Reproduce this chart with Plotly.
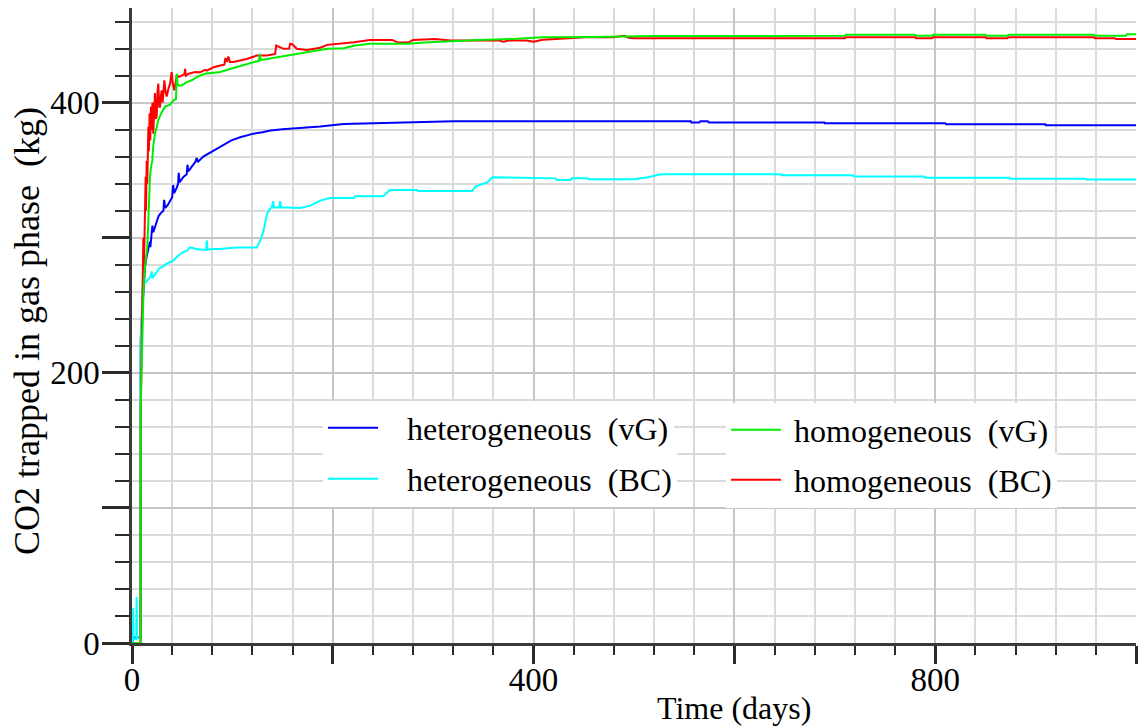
import plotly.graph_objects as go

# CO2 mass trapped in the gas phase over time, four model variants
blue_t = [
    0, 1.0, 1.5, 8.5, 8.7, 9.6, 10.6, 11.7, 12.9, 14.6,
    16.3, 17.8, 18.3, 19.6, 20.3, 21.2, 22.9, 24.6, 26.5, 28.5,
    31.3, 32.0, 33.0, 35.5, 37.9, 40.0, 41.0, 42.0, 44.6, 46.0,
    46.5, 47.5, 51.2, 54.5, 55.3, 56.0, 59.0, 63.0, 64.5, 65.5,
    71.0, 77.8, 84.0, 91.1, 99.0, 107.7, 115.0, 121.0, 130.0, 137.7,
    150.0, 160.9, 167.6, 187.5, 210.8, 237.0, 264.0, 290.0, 320.5, 556.6,
    557.0, 565.0, 566.0, 573.5, 574.5, 689.6, 690.0, 810.0, 811.0, 909.7,
    910.0, 1000.0,
]
blue_v = [
    0, 3, 4, 4, 224, 238, 251, 265, 278, 286,
    293, 297, 293, 303, 309, 304, 308, 313, 316, 318,
    320, 328, 322, 324, 327, 330, 339, 333, 337, 340,
    348, 341, 345, 347, 354, 349, 352, 356, 359, 356,
    360, 363, 366, 369, 372, 374.3, 376, 377, 378, 379.3,
    380.3, 380.8, 381.2, 382.3, 384.2, 384.8, 385.4, 385.8, 386.2, 386.2,
    385.2, 385.2, 386.2, 386.2, 385.3, 385.3, 384.7, 384.7, 383.9, 383.9,
    383.2, 383.2,
]

cyan_t = [
    0, 0.9, 1.2, 1.5, 4.2, 4.6, 5.0, 8.4, 8.7, 9.5,
    10.6, 12.5, 14.6, 16.5, 18.5, 19.6, 20.3, 21.2, 24.0, 27.0,
    31.3, 35.0, 41.2, 45.0, 50.0, 54.6, 57.9, 61.0, 64.6, 70.0,
    73.8, 74.5, 75.2, 80.0, 87.8, 95.0, 104.4, 115.0, 124.3, 127.7,
    131.0, 134.4, 137.0, 139.3, 140.5, 141.5, 146.5, 147.5, 148.5, 154.3,
    167.6, 177.6, 187.5, 197.0, 221.0, 222.0, 250.0, 257.0, 284.0, 285.0,
    339.0, 342.0, 354.0, 359.0, 422.0, 423.0, 437.0, 438.0, 454.0, 455.0,
    500.0, 514.0, 526.7, 646.0, 647.0, 718.0, 719.0, 789.0, 790.0, 874.0,
    875.0, 949.0, 950.0, 1000.0,
]
cyan_v = [
    0, 2, 26, 3, 3, 34, 4, 4, 225, 248,
    264, 266, 268, 270, 271, 275, 270, 271, 274, 277,
    279, 281, 283, 286, 289, 290.4, 292.8, 292, 291.6, 291,
    291, 298, 291, 291.6, 291.6, 292.2, 292.8, 292.8, 292.8, 297.8,
    305, 317.5, 321, 322.4, 327, 322.4, 322.4, 327, 322.4, 322.4,
    322, 323.7, 327.4, 329.4, 329.4, 330.6, 330.6, 335.3, 335.3, 334.6,
    334.6, 337.8, 341, 344.7, 343.9, 342.7, 342.7, 343.9, 343.9, 343.2,
    343.2, 344.7, 346.9, 346.9, 346.2, 346.2, 345.2, 345.2, 344.4, 344.4,
    343.7, 343.7, 343, 343,
]

green_t = [
    0, 8.5, 8.7, 9.5, 10.5, 11.5, 12.9, 14.6, 15.2, 16.3,
    17.0, 17.9, 18.9, 20.2, 21.2, 22.9, 24.6, 26.2, 29.0, 32.9,
    37.9, 41.2, 43.8, 44.3, 44.6, 45.3, 46.2, 49.5, 54.6, 59.5,
    66.0, 72.8, 80.0, 87.8, 96.0, 104.4, 112.0, 121.0, 126.5, 127.2,
    128.2, 134.4, 144.0, 154.3, 167.6, 174.3, 178.7, 187.5, 194.5, 210.7,
    221.0, 237.0, 275.0, 291.0, 329.0, 345.0, 383.0, 409.0, 460.0, 517.0,
    710.0, 711.0, 780.0, 781.0, 797.0, 798.0, 850.0, 851.0, 872.0, 873.0,
    958.0, 959.0, 990.0, 991.0, 1000.0,
]
green_v = [
    0, 0, 175, 200, 235, 262, 278, 289, 293, 313,
    330, 345, 352, 357, 368, 377, 382, 387, 392, 397,
    398.5, 401.6, 402.5, 412, 421.4, 414, 412.7, 412.7, 415.1, 416.5,
    419.5, 421.4, 422.2, 422.6, 424.5, 426.3, 428, 430, 431, 436,
    431.5, 432.3, 433.5, 434.8, 436.5, 437.3, 438.3, 439, 439.8, 440.3,
    442, 443.5, 443.5, 444.4, 445.9, 446.3, 447.2, 448.4, 448.6, 449.2,
    449.4, 450.2, 450.2, 449.5, 449.5, 450.2, 450.2, 449.5, 449.5, 450.2,
    450.2, 449.5, 449.5, 450.5, 450.5,
]

red_t = [
    0, 8.5, 8.7, 9.5, 10.3, 11.0, 11.3, 11.8, 12.4, 12.9,
    13.3, 13.6, 14.0, 14.6, 15.2, 15.7, 16.3, 16.8, 17.5, 18.2,
    18.9, 19.7, 20.4, 21.2, 22.0, 22.9, 23.8, 24.6, 25.4, 26.2,
    27.1, 27.9, 28.8, 29.6, 30.5, 31.3, 32.2, 33.4, 34.6, 36.2,
    37.9, 39.5, 40.5, 42.1, 43.3, 44.6, 47.0, 50.0, 52.2, 52.9,
    53.6, 56.2, 62.9, 67.8, 72.8, 74.5, 81.1, 87.8, 92.0, 93.0,
    94.4, 96.0, 97.5, 101.0, 114.3, 124.3, 134.3, 142.6, 143.6, 151.0,
    156.5, 157.5, 160.0, 164.1, 174.1, 187.5, 194.5, 221.0, 237.0, 259.0,
    265.0, 275.0, 280.0, 301.8, 317.0, 365.0, 370.0, 375.0, 393.0, 400.0,
    409.0, 452.0, 479.0, 490.0, 495.0, 500.0, 517.0, 710.0, 711.0, 780.0,
    781.0, 797.0, 798.0, 850.0, 851.0, 872.0, 873.0, 958.0, 959.0, 979.0,
    980.0, 1000.0,
]
red_v = [
    0, 0, 172, 210, 250, 268, 300, 275, 305, 303,
    330, 345, 320, 357, 340, 375, 382, 364, 392, 372,
    397, 380, 400, 377, 395, 407, 388, 390, 408, 414,
    397, 397, 405, 409, 400, 412, 416.5, 408, 404.5, 410,
    414, 422.6, 415, 409, 416, 420, 419, 420, 421, 425,
    420, 421.4, 422.6, 422.4, 424.3, 423.7, 426.1, 427.4, 428, 433,
    430, 434, 430, 430, 432.3, 434.8, 434.8, 436, 442.2, 439.8,
    440, 443.5, 443, 439.8, 439, 440.6, 442.7, 444.7, 446.4, 446.4,
    444.4, 444.4, 446.4, 447.0, 445.9, 445.9, 445.0, 446.0, 446.0, 445.0,
    446.5, 448.4, 448.4, 449.4, 448.0, 447.6, 447.6, 447.6, 448.4, 448.4,
    447.6, 447.6, 448.4, 448.4, 447.6, 447.6, 448.4, 448.4, 447.6, 447.6,
    447.0, 447.0,
]

x_tickvals = [0, 200, 400, 600, 800, 1000]
x_ticktext = ["0", "", "400", "", "800", ""]
y_tickvals = [0, 100, 200, 300, 400]
y_ticktext = ["0", "", "200", "", "400"]

FONT = "Liberation Serif"
PAD_L = "\u00a0\u00a0\u00a0"
PAD_R = "\u00a0"

series = [
    # (name, t, v, colour, legend id, label padding)
    ("heterogeneous\u00a0 (vG)", blue_t, blue_v, "#0000ff", "legend", PAD_L),
    ("heterogeneous\u00a0 (BC)", cyan_t, cyan_v, "#00ffff", "legend2", PAD_L),
    ("homogeneous\u00a0 (BC)", red_t, red_v, "#ff0000", "legend4", PAD_R),
    ("homogeneous\u00a0 (vG)", green_t, green_v, "#00ee00", "legend3", PAD_R),
]

fig = go.Figure()
for name, t, v, colour, leg, pad in series:
    fig.add_trace(go.Scatter(
        x=t, y=v, mode="lines", name=pad + name,
        line=dict(color=colour, width=2),
        legend=leg, showlegend=True,
    ))

W, H = 1146, 726
ML, MR, MT, MB = 132, 10, 8, 83
pw, ph = W - ML - MR, H - MT - MB


def px_x(p):
    return (p - ML) / pw


def px_y(p):
    return (H - MB - p) / ph


leg_font = dict(family=FONT, size=32, color="black")
leg_common = dict(bgcolor="white", borderwidth=0, font=leg_font,
                  xanchor="left", yanchor="middle", itemwidth=50,
                  itemclick=False, itemdoubleclick=False)

axis_common = dict(
    showline=True, linecolor="#3a3a3a", linewidth=2.5,
    ticks="outside", tickcolor="#2a2a2a", tickwidth=2.5,
    tickmode="array", zeroline=False,
    showgrid=True, gridcolor="#c6c6c6", gridwidth=2.2,
    tickfont=dict(family=FONT, size=33, color="black"),
)

fig.update_layout(
    width=W, height=H,
    margin=dict(l=ML, r=MR, t=MT, b=MB),
    paper_bgcolor="white", plot_bgcolor="white",
    font=dict(family=FONT, size=32, color="black"),
    showlegend=True,
    xaxis=dict(
        range=[0, 1000], tickvals=x_tickvals, ticktext=x_ticktext,
        ticklen=18, ticklabelstandoff=-12,
        minor=dict(tickmode="linear", tick0=0, dtick=40, ticks="outside",
                   ticklen=9, tickwidth=2, tickcolor="#2a2a2a",
                   showgrid=True, gridcolor="#dadada", gridwidth=1.8),
        **axis_common,
    ),
    yaxis=dict(
        range=[0, 470], tickvals=y_tickvals, ticktext=y_ticktext,
        ticklen=27, ticklabelstandoff=-4,
        minor=dict(tickmode="linear", tick0=0, dtick=20, ticks="outside",
                   ticklen=14, tickwidth=2, tickcolor="#2a2a2a",
                   showgrid=True, gridcolor="#dadada", gridwidth=1.8),
        **axis_common,
    ),
    legend=dict(x=px_x(323), y=px_y(428), **leg_common),
    legend2=dict(x=px_x(323), y=px_y(479), **leg_common),
    legend3=dict(x=px_x(726), y=px_y(430), **leg_common),
    legend4=dict(x=px_x(726), y=px_y(480), **leg_common),
    annotations=[
        dict(text="Time (days)", xref="paper", yref="paper",
             x=px_x(734), y=px_y(708), xanchor="center", yanchor="middle",
             showarrow=False, font=dict(family=FONT, size=32, color="black")),
        dict(text="CO2 trapped in gas phase\u00a0 (kg)", xref="paper",
             yref="paper", x=px_x(27), y=px_y(331), xanchor="center",
             yanchor="middle", textangle=-90, showarrow=False,
             font=dict(family=FONT, size=36, color="black")),
    ],
)

fig.write_html("out.html")
